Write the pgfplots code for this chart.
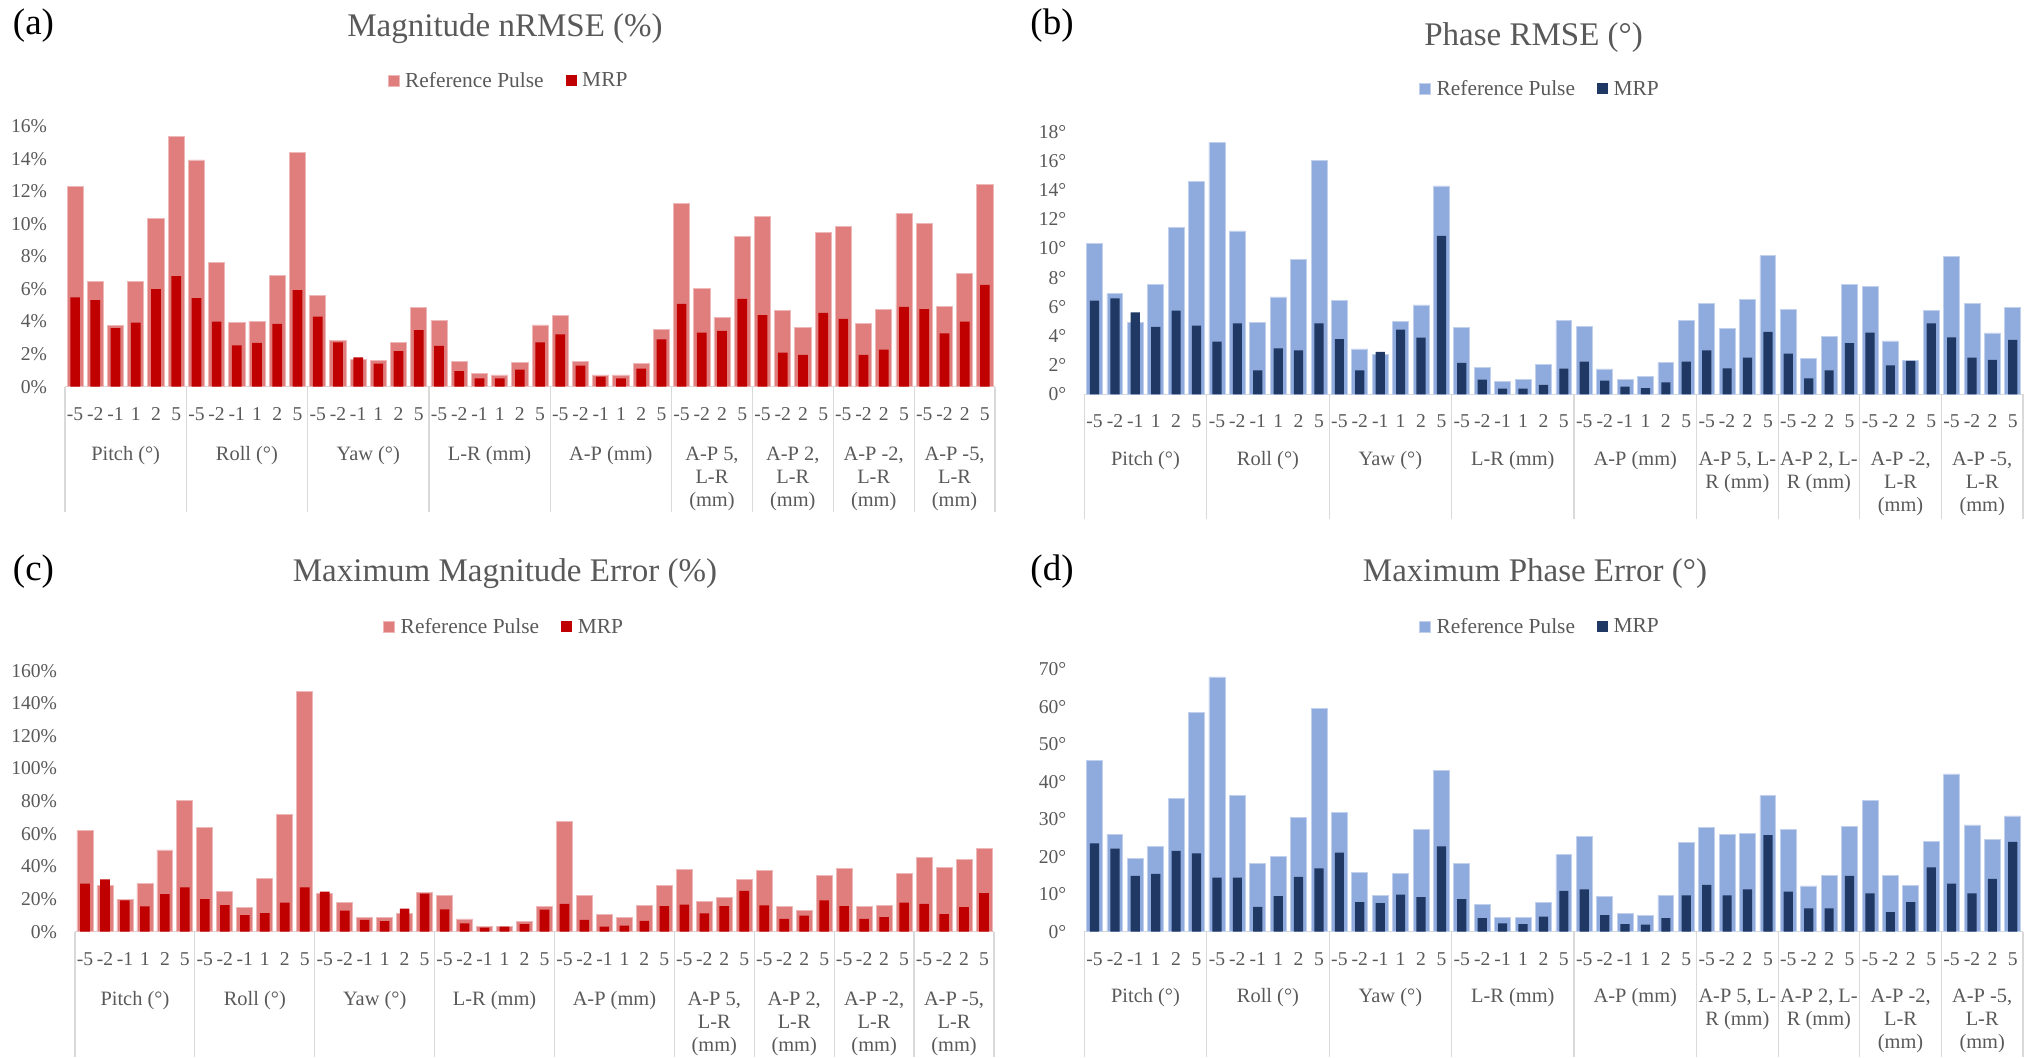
\documentclass[border=0pt]{standalone}
\usepackage{fontspec}
\setmainfont{Liberation Serif}
\usepackage{pgfplots}
\pgfplotsset{compat=1.18}
\usepackage{pgfplotstable}

\definecolor{refred}{HTML}{E07E7E}
\definecolor{mrpred}{HTML}{C00000}
\definecolor{refblue}{HTML}{8FAADC}
\definecolor{mrpblue}{HTML}{203864}
\definecolor{textgray}{HTML}{595959}
\definecolor{sepgray}{HTML}{D9D9D9}

\newcommand\tickfont{\fontsize{9.8}{11}\selectfont}
\newcommand\legfont{\fontsize{10.7}{12}\selectfont}
\newcommand\titfont{\fontsize{16.5}{18}\selectfont}
\newcommand\panfont{\fontsize{18.5}{20}\selectfont}

% Magnitude nRMSE (%)
\pgfplotstableread{
x ref mrp
0 12.30 5.48
1 6.46 5.31
2 3.75 3.59
3 6.46 3.94
4 10.36 5.99
5 15.38 6.79
6 13.93 5.44
7 7.65 4.00
8 3.94 2.54
9 4.02 2.69
10 6.85 3.86
11 14.40 5.93
12 5.60 4.31
13 2.85 2.73
14 1.68 1.80
15 1.62 1.42
16 2.73 2.19
17 4.88 3.47
18 4.08 2.50
19 1.54 0.96
20 0.82 0.51
21 0.72 0.51
22 1.48 1.05
23 3.79 2.73
24 4.39 3.22
25 1.54 1.29
26 0.72 0.62
27 0.72 0.51
28 1.42 1.11
29 3.49 2.91
30 11.26 5.09
31 6.01 3.32
32 4.27 3.43
33 9.25 5.39
34 10.46 4.39
35 4.66 2.09
36 3.63 1.95
37 9.50 4.53
38 9.83 4.16
39 3.86 1.95
40 4.76 2.28
41 10.65 4.90
42 10.01 4.76
43 4.94 3.28
44 6.97 4.00
45 12.41 6.26
}\tA

% Phase RMSE (deg)
\pgfplotstableread{
x ref mrp
0 10.34 6.43
1 6.89 6.59
2 4.92 5.63
3 7.55 4.62
4 11.44 5.74
5 14.62 4.71
6 17.28 3.62
7 11.21 4.87
8 4.92 1.65
9 6.68 3.16
10 9.24 3.02
11 16.02 4.87
12 6.41 3.78
13 3.11 1.65
14 2.75 2.91
15 5.01 4.44
16 6.13 3.89
17 14.30 10.87
18 4.60 2.15
19 1.83 1.00
20 0.87 0.39
21 1.03 0.39
22 2.04 0.64
23 5.08 1.76
24 4.67 2.24
25 1.74 0.94
26 1.03 0.53
27 1.24 0.43
28 2.17 0.82
29 5.08 2.24
30 6.22 3.02
31 4.51 1.78
32 6.50 2.52
33 9.52 4.28
34 5.84 2.79
35 2.49 1.10
36 3.96 1.65
37 7.51 3.52
38 7.39 4.23
39 3.66 1.99
40 2.33 2.29
41 5.77 4.87
42 9.47 3.91
43 6.22 2.52
44 4.21 2.36
45 5.97 3.73
}\tB

% Maximum Magnitude Error (%)
\pgfplotstableread{
x ref mrp
0 61.9 29.4
1 28.4 32.1
2 19.8 19.2
3 29.4 15.5
4 50.1 23.1
5 80.3 27.2
6 64.0 20.0
7 24.9 16.3
8 14.9 10.2
9 32.7 11.4
10 71.9 17.8
11 147.3 27.2
12 23.5 24.5
13 18.0 12.9
14 8.6 7.2
15 8.6 6.5
16 11.4 14.1
17 24.1 23.3
18 22.3 13.7
19 7.8 5.1
20 3.3 2.5
21 3.3 3.1
22 6.3 4.7
23 15.5 13.5
24 67.8 17.0
25 22.3 7.2
26 10.6 3.1
27 8.8 3.7
28 15.9 6.7
29 28.2 15.7
30 38.0 16.6
31 18.8 11.2
32 21.0 15.7
33 32.1 25.1
34 37.6 16.1
35 15.5 7.8
36 12.9 9.8
37 34.5 19.2
38 39.0 15.7
39 15.5 7.8
40 15.9 9.0
41 35.8 17.8
42 45.4 17.0
43 39.4 10.8
44 44.3 15.1
45 51.1 23.7
}\tC

% Maximum Phase Error (deg)
\pgfplotstableread{
x ref mrp
0 45.6 23.6
1 26.0 22.2
2 19.5 14.9
3 22.8 15.4
4 35.6 21.6
5 58.4 20.9
6 68.0 14.4
7 36.3 14.4
8 18.1 6.6
9 20.0 9.5
10 30.4 14.6
11 59.5 16.9
12 31.9 21.1
13 15.7 7.9
14 9.6 7.6
15 15.6 9.9
16 27.3 9.2
17 43.1 22.8
18 18.1 8.7
19 7.3 3.6
20 3.7 2.2
21 3.7 2.0
22 7.7 4.0
23 20.5 10.9
24 25.5 11.3
25 9.4 4.4
26 4.9 2.0
27 4.4 1.9
28 9.6 3.6
29 23.8 9.7
30 27.9 12.5
31 26.0 9.7
32 26.2 11.3
33 36.4 25.8
34 27.3 10.7
35 12.2 6.2
36 15.1 6.2
37 28.1 14.9
38 35.0 10.2
39 15.1 5.2
40 12.4 7.9
41 24.0 17.2
42 42.1 12.8
43 28.5 10.2
44 24.7 14.1
45 30.9 24.0
}\tD

\pgfplotsset{
  panel/.style={
    scale only axis, anchor=south west, clip=false,
    xmin=-0.5, xmax=45.5, ymin=0, enlargelimits=false,
    axis x line*=bottom, axis y line*=left,
    x axis line style={draw=sepgray, line width=0.6pt, -},
    y axis line style={draw=none},
    xtick={0,...,45},
    xticklabels={-5,-2,-1,1,2,5,-5,-2,-1,1,2,5,-5,-2,-1,1,2,5,-5,-2,-1,1,2,5,-5,-2,-1,1,2,5,-5,-2,2,5,-5,-2,2,5,-5,-2,2,5,-5,-2,2,5},
    major tick length=0pt,
    extra x ticks={-0.5,5.5,11.5,17.5,23.5,29.5,33.5,37.5,41.5,45.5},
    extra x tick labels={},
    extra x tick style={major tick length=62.5pt, tick align=outside,
      tick style={draw=sepgray, line width=0.6pt}},
    xticklabel style={font=\tickfont, text=textgray, anchor=center, yshift=-13.5pt, inner sep=0pt},
    yticklabel style={font=\tickfont, text=textgray, anchor=east, xshift=-8.8pt, inner sep=0pt},
    /pgf/number format/assume math mode=true,
    legend style={draw=none, fill=none, anchor=center, legend columns=2,
      font=\legfont, nodes={text=textgray, inner sep=1pt},
      /tikz/every even column/.append style={column sep=10pt}},
    legend image code/.code={\fill[##1] (0pt,-2.4pt) rectangle (5.5pt,3.1pt); \path (7.3pt,0pt);},
  },
}
\tikzset{gl/.style={anchor=base, inner sep=0pt, font=\fontsize{10.2}{11}\selectfont, text=textgray}}

\newcommand\G[3]{\node[gl] at ([yshift=-#2]axis cs:#1,0) {#3};}

\begin{document}
\begin{tikzpicture}

% ---------------- (a)
\begin{axis}[panel, at={(32.5pt,335.15pt)}, width=465pt, height=130.25pt,
  ymax=16, ytick={0,2,...,16}, yticklabel={\pgfmathprintnumber{\tick}\%},
  legend style={at={(axis description cs:0.477,1.172)}}]
\addplot[ybar, bar width=0.8, bar shift=0pt, fill=refred, draw=refred!55!white, line width=0.4pt] table[x=x,y=ref]{\tA};
\addplot[ybar, bar width=0.48, bar shift=0pt, fill=mrpred, draw=none] table[x=x,y=mrp]{\tA};
\legend{Reference Pulse, MRP}
\G{2.5}{36.9pt}{Pitch (°)}
\G{8.5}{36.9pt}{Roll (°)}
\G{14.5}{36.9pt}{Yaw (°)}
\G{20.5}{36.9pt}{L-R (mm)}
\G{26.5}{36.9pt}{A-P (mm)}
\G{31.5}{36.9pt}{A-P 5,}\G{31.5}{48.4pt}{L-R}\G{31.5}{59.9pt}{(mm)}
\G{35.5}{36.9pt}{A-P 2,}\G{35.5}{48.4pt}{L-R}\G{35.5}{59.9pt}{(mm)}
\G{39.5}{36.9pt}{A-P -2,}\G{39.5}{48.4pt}{L-R}\G{39.5}{59.9pt}{(mm)}
\G{43.5}{36.9pt}{A-P -5,}\G{43.5}{48.4pt}{L-R}\G{43.5}{59.9pt}{(mm)}
\end{axis}

% ---------------- (b)
\begin{axis}[panel, at={(542.15pt,331.35pt)}, width=469.35pt, height=131.15pt,
  ymax=18, ytick={0,2,...,18}, yticklabel={\pgfmathprintnumber{\tick}°},
  legend style={at={(axis description cs:0.4855,1.162)}}]
\addplot[ybar, bar width=0.78, bar shift=0pt, fill=refblue, draw=refblue!55!white, line width=0.4pt] table[x=x,y=ref]{\tB};
\addplot[ybar, bar width=0.45, bar shift=0pt, fill=mrpblue, draw=none] table[x=x,y=mrp]{\tB};
\legend{Reference Pulse, MRP}
\G{2.5}{35.4pt}{Pitch (°)}
\G{8.5}{35.4pt}{Roll (°)}
\G{14.5}{35.4pt}{Yaw (°)}
\G{20.5}{35.4pt}{L-R (mm)}
\G{26.5}{35.4pt}{A-P (mm)}
\G{31.5}{35.4pt}{A-P 5, L-}\G{31.5}{46.9pt}{R (mm)}
\G{35.5}{35.4pt}{A-P 2, L-}\G{35.5}{46.9pt}{R (mm)}
\G{39.5}{35.4pt}{A-P -2,}\G{39.5}{46.9pt}{L-R}\G{39.5}{58.4pt}{(mm)}
\G{43.5}{35.4pt}{A-P -5,}\G{43.5}{46.9pt}{L-R}\G{43.5}{58.4pt}{(mm)}
\end{axis}

% ---------------- (c)
\begin{axis}[panel, at={(37.5pt,62.65pt)}, width=459.5pt, height=130.5pt,
  ymax=160, ytick={0,20,...,160}, yticklabel={\pgfmathprintnumber{\tick}\%},
  legend style={at={(axis description cs:0.467,1.165)}}]
\addplot[ybar, bar width=0.8, bar shift=0pt, fill=refred, draw=refred!55!white, line width=0.4pt] table[x=x,y=ref]{\tC};
\addplot[ybar, bar width=0.48, bar shift=0pt, fill=mrpred, draw=none] table[x=x,y=mrp]{\tC};
\legend{Reference Pulse, MRP}
\G{2.5}{36.9pt}{Pitch (°)}
\G{8.5}{36.9pt}{Roll (°)}
\G{14.5}{36.9pt}{Yaw (°)}
\G{20.5}{36.9pt}{L-R (mm)}
\G{26.5}{36.9pt}{A-P (mm)}
\G{31.5}{36.9pt}{A-P 5,}\G{31.5}{48.4pt}{L-R}\G{31.5}{59.9pt}{(mm)}
\G{35.5}{36.9pt}{A-P 2,}\G{35.5}{48.4pt}{L-R}\G{35.5}{59.9pt}{(mm)}
\G{39.5}{36.9pt}{A-P -2,}\G{39.5}{48.4pt}{L-R}\G{39.5}{59.9pt}{(mm)}
\G{43.5}{36.9pt}{A-P -5,}\G{43.5}{48.4pt}{L-R}\G{43.5}{59.9pt}{(mm)}
\end{axis}

% ---------------- (d)
\begin{axis}[panel, at={(542.15pt,62.65pt)}, width=469.35pt, height=131.15pt,
  ymax=70, ytick={0,10,...,70}, yticklabel={\pgfmathprintnumber{\tick}°},
  legend style={at={(axis description cs:0.4855,1.16)}}]
\addplot[ybar, bar width=0.78, bar shift=0pt, fill=refblue, draw=refblue!55!white, line width=0.4pt] table[x=x,y=ref]{\tD};
\addplot[ybar, bar width=0.45, bar shift=0pt, fill=mrpblue, draw=none] table[x=x,y=mrp]{\tD};
\legend{Reference Pulse, MRP}
\G{2.5}{35.4pt}{Pitch (°)}
\G{8.5}{35.4pt}{Roll (°)}
\G{14.5}{35.4pt}{Yaw (°)}
\G{20.5}{35.4pt}{L-R (mm)}
\G{26.5}{35.4pt}{A-P (mm)}
\G{31.5}{35.4pt}{A-P 5, L-}\G{31.5}{46.9pt}{R (mm)}
\G{35.5}{35.4pt}{A-P 2, L-}\G{35.5}{46.9pt}{R (mm)}
\G{39.5}{35.4pt}{A-P -2,}\G{39.5}{46.9pt}{L-R}\G{39.5}{58.4pt}{(mm)}
\G{43.5}{35.4pt}{A-P -5,}\G{43.5}{46.9pt}{L-R}\G{43.5}{58.4pt}{(mm)}
\end{axis}

% titles and panel letters
\node[font=\titfont, text=textgray] at (252.5pt,514.2pt) {Magnitude nRMSE (\%)};
\node[font=\titfont, text=textgray] at (766.8pt,509.6pt) {Phase RMSE (°)};
\node[font=\titfont, text=textgray] at (252.5pt,241.7pt) {Maximum Magnitude Error (\%)};
\node[font=\titfont, text=textgray] at (767.5pt,241.7pt) {Maximum Phase Error (°)};
\node[font=\panfont] at (16.75pt,515.5pt) {(a)};
\node[font=\panfont] at (526pt,515.5pt) {(b)};
\node[font=\panfont] at (16.75pt,242.5pt) {(c)};
\node[font=\panfont] at (526pt,242.5pt) {(d)};

\pgfresetboundingbox
\useasboundingbox (0,0) rectangle (1015.5pt,528.5pt);
\end{tikzpicture}
\end{document}
